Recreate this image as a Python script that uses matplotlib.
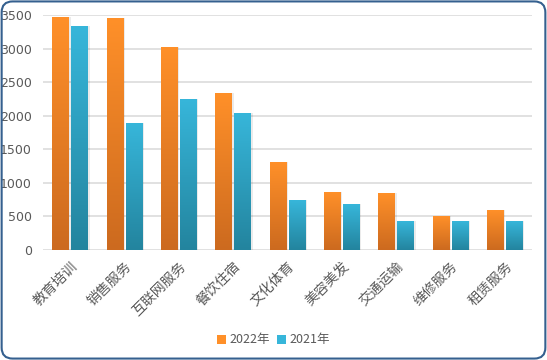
import matplotlib
matplotlib.use("Agg")
import matplotlib.pyplot as plt
import numpy as np
from matplotlib.patches import FancyBboxPatch, Patch
from matplotlib.colors import LinearSegmentedColormap
import matplotlib.transforms as mtransforms

plt.rcParams['font.family'] = ['Noto Sans CJK SC', 'DejaVu Sans']

categories = ["教育培训", "销售服务", "互联网服务", "餐饮住宿", "文化体育", "美容美发", "交通运输", "维修服务", "租赁服务"]
values_2022 = [3475, 3460, 3030, 2340, 1310, 860, 845, 500, 590]
values_2021 = [3340, 1895, 2250, 2040, 740, 680, 430, 430, 430]
series_names = ["2022年", "2021年"]
y_ticks = [0, 500, 1000, 1500, 2000, 2500, 3000, 3500]

orange_top, orange_bot = "#FF9029", "#CC6A1F"
blue_top, blue_bot = "#37B6DA", "#23849E"

fig = plt.figure(figsize=(5.47, 3.60), dpi=100)
fig.patch.set_facecolor("white")

# rounded border
border = FancyBboxPatch((0.003, 0.004), 0.994, 0.992, boxstyle="round,pad=0,rounding_size=0.02",
                        transform=fig.transFigure, facecolor="none", edgecolor="#35608F",
                        linewidth=1.5, mutation_aspect=547/360, zorder=10)
fig.patches.append(border)

ax = fig.add_axes([43/547, 1-249.7/360, (532-43)/547, (249.7-15.3)/360])
ax.set_facecolor("none")
n = len(categories)
x = np.arange(n)
w = 0.31
gap = 0.04

ax.yaxis.grid(True, color="#D9D9D9", linewidth=1.1)
ax.set_axisbelow(True)
for s in ax.spines.values():
    s.set_visible(False)
ax.tick_params(axis='both', length=0, colors="#595959")
ax.tick_params(axis='y', labelsize=9, pad=8)

def grad_cmap(top, bot):
    return LinearSegmentedColormap.from_list("g", [bot, top])

cm_o = grad_cmap(orange_top, orange_bot)
cm_b = grad_cmap(blue_top, blue_bot)
grad = np.linspace(0, 1, 256).reshape(-1, 1)

shadow_tr = mtransforms.offset_copy(ax.transData, fig=fig, x=1.5, y=0, units='dots')

def draw_bars(xs, vals, cmap, color):
    bars = ax.bar(xs, vals, width=w, color=color, zorder=3, linewidth=0)
    for b in bars:
        x0, y0 = b.get_x(), b.get_y()
        bw, bh = b.get_width(), b.get_height()
        sh = plt.Rectangle((x0, y0), bw, bh, transform=shadow_tr, facecolor="#000000",
                           alpha=0.08, zorder=2, linewidth=0)
        ax.add_patch(sh)
        im = ax.imshow(grad, cmap=cmap, extent=(x0, x0+bw, 0, bh), origin='lower',
                       aspect='auto', zorder=4, interpolation='bilinear')
        im.set_clip_path(b)
    return bars

off = w/2 + gap/2
draw_bars(x - off, values_2022, cm_o, orange_top)
draw_bars(x + off, values_2021, cm_b, blue_top)
ax.set_xlim(-0.5, n-0.5)
ax.set_ylim(0, 3500)
ax.set_yticks(y_ticks)
for lbl in ax.get_yticklabels():
    lbl.set_family(['DejaVu Sans'])

ax.set_xticks(x)
ax.set_xticklabels(categories, rotation=45, ha='right', va='top', rotation_mode='anchor',
                   fontsize=10, color="#595959")
ax.tick_params(axis='x', pad=7)

# legend
handles = [Patch(facecolor=orange_top, edgecolor='none'), Patch(facecolor=blue_top, edgecolor='none')]
leg = fig.legend(handles, series_names, loc='center', bbox_to_anchor=(0.5, 1-340/360), ncol=2,
                 frameon=False, fontsize=9, handlelength=0.7, handleheight=0.7,
                 handletextpad=0.3, columnspacing=0.6, labelcolor="#595959")

fig.savefig("out.png", dpi=100, facecolor="white")
